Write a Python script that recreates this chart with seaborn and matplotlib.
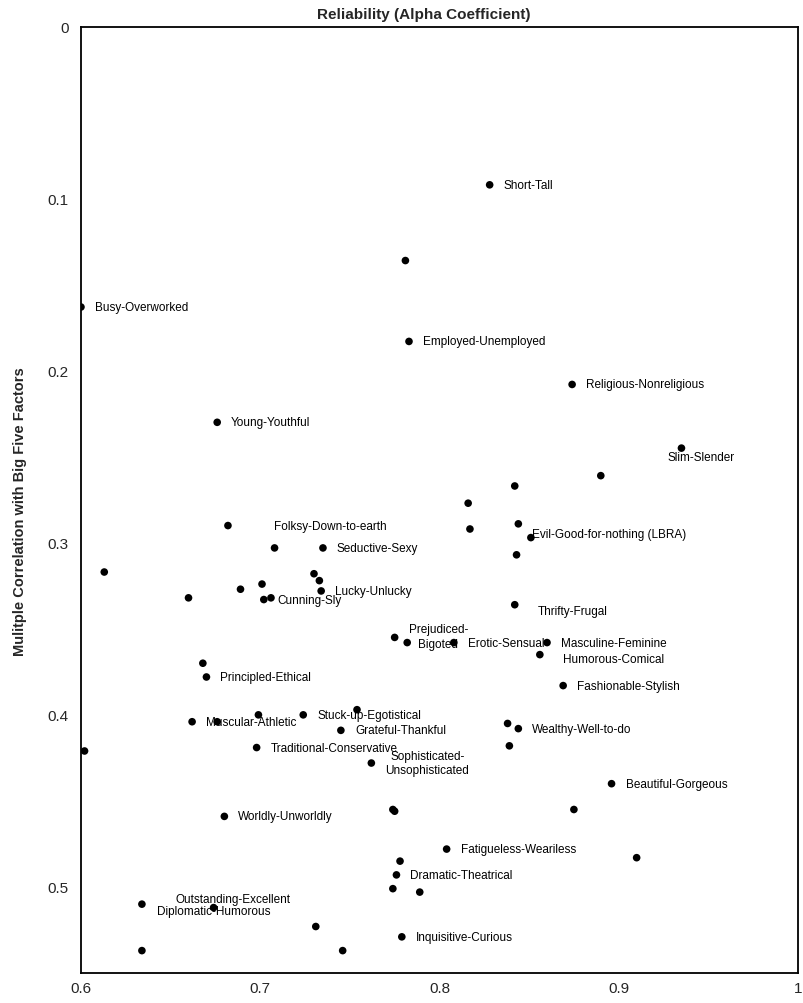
import matplotlib
matplotlib.use("Agg")
import matplotlib.pyplot as plt
import pandas as pd
import seaborn as sns

# ---------------------------------------------------------------------------
# Data
# ---------------------------------------------------------------------------
traits = [
    "Short-Tall", "", "Busy-Overworked", "Employed-Unemployed",
    "Religious-Nonreligious", "Young-Youthful", "Slim-Slender", "", "", "",
    "Folksy-Down-to-earth", "", "", "Evil-Good-for-nothing (LBRA)", "",
    "Seductive-Sexy", "", "", "", "", "", "", "Lucky-Unlucky", "", "",
    "Cunning-Sly", "Thrifty-Frugal", "Prejudiced-\nBigoted", "", "Erotic-Sensual",
    "Masculine-Feminine", "Humorous-Comical", "", "Principled-Ethical",
    "Fashionable-Stylish", "", "", "Stuck-up-Egotistical", "Muscular-Athletic", "",
    "Grateful-Thankful", "", "Wealthy-Well-to-do", "", "Traditional-Conservative",
    "", "Sophisticated-\nUnsophisticated", "Beautiful-Gorgeous", "", "", "",
    "Worldly-Unworldly", "Fatigueless-Weariless", "", "", "Dramatic-Theatrical",
    "", "", "Diplomatic-Humorous", "Outstanding-Excellent", "",
    "Inquisitive-Curious", "", "",
]

alpha = [
    0.828, 0.781, 0.600, 0.783, 0.874, 0.676, 0.935, 0.890, 0.842, 0.816,
    0.682, 0.844, 0.817, 0.851, 0.708, 0.735, 0.843, 0.613, 0.730, 0.733,
    0.701, 0.689, 0.734, 0.660, 0.702, 0.706, 0.842, 0.775, 0.782, 0.808,
    0.860, 0.856, 0.668, 0.670, 0.869, 0.754, 0.699, 0.724, 0.662, 0.676,
    0.745, 0.838, 0.844, 0.839, 0.698, 0.602, 0.762, 0.896, 0.774, 0.775,
    0.875, 0.680, 0.804, 0.910, 0.778, 0.776, 0.774, 0.789, 0.634, 0.674,
    0.731, 0.779, 0.634, 0.746,
]

multiple_r = [
    0.092, 0.136, 0.163, 0.183, 0.208, 0.230, 0.245, 0.261, 0.267, 0.277,
    0.290, 0.289, 0.292, 0.297, 0.303, 0.303, 0.307, 0.317, 0.318, 0.322,
    0.324, 0.327, 0.328, 0.332, 0.333, 0.332, 0.336, 0.355, 0.358, 0.358,
    0.358, 0.365, 0.370, 0.378, 0.383, 0.397, 0.400, 0.400, 0.404, 0.404,
    0.409, 0.405, 0.408, 0.418, 0.419, 0.421, 0.428, 0.440, 0.455, 0.456,
    0.455, 0.459, 0.478, 0.483, 0.485, 0.493, 0.501, 0.503, 0.510, 0.512,
    0.523, 0.529, 0.537, 0.537,
]

x_ticks = [0.6, 0.7, 0.8, 0.9, 1.0]
x_tick_labels = ["0.6", "0.7", "0.8", "0.9", "1"]
y_ticks = [0, 0.1, 0.2, 0.3, 0.4, 0.5]
y_tick_labels = ["0", "0.1", "0.2", "0.3", "0.4", "0.5"]

# label nudges in screen pixels (dx right, dy down); default is right of dot
DEFAULT_OFFSET = (14, 0)
LABEL_OFFSETS = {
    "Slim-Slender": (-14, 9),
    "Folksy-Down-to-earth": (46, 0),
    "Evil-Good-for-nothing (LBRA)": (1, -4),
    "Cunning-Sly": (6, 2),
    "Thrifty-Frugal": (23, 6),
    "Prejudiced-\nBigoted": (14, -1),
    "Humorous-Comical": (23, 4),
    "Diplomatic-Humorous": (15, 7),
    "Outstanding-Excellent": (-38, -9),
}

# ---------------------------------------------------------------------------
# Plot
# ---------------------------------------------------------------------------
sns.set_style("white")
plt.rcParams["font.family"] = ["Liberation Sans", "DejaVu Sans"]

df = pd.DataFrame({"trait": traits, "alpha": alpha, "r": multiple_r})

fig = plt.figure(figsize=(8.04, 10.04), dpi=100)
ax = fig.add_axes([0.1007, 0.0299, 0.8918, 0.9427])

sns.scatterplot(data=df, x="alpha", y="r", ax=ax, color="black",
                s=30, edgecolor="none", legend=False, zorder=3)

for _, row in df.iterrows():
    if not row["trait"]:
        continue
    dx, dy = LABEL_OFFSETS.get(row["trait"], DEFAULT_OFFSET)
    ax.annotate(row["trait"], (row["alpha"], row["r"]),
                xytext=(dx, -dy), textcoords="offset pixels",
                ha="left", va="center", multialignment="center",
                fontsize=8.5, linespacing=1.25, color="black", zorder=4)

ax.set_xlim(0.6, 1.0)
ax.set_ylim(0.55, 0)
ax.set_xticks(x_ticks)
ax.set_xticklabels(x_tick_labels, fontsize=11)
ax.set_yticks(y_ticks)
ax.set_yticklabels(y_tick_labels, fontsize=11)
ax.tick_params(axis="x", length=0, pad=6)
ax.tick_params(axis="y", length=0, pad=9)
ax.set_xlabel("")
ax.set_ylabel("")
for sp in ax.spines.values():
    sp.set_visible(True)
    sp.set_color("black")
    sp.set_linewidth(1.3)

fig.text(424 / 804, 1 - 15 / 1004, "Reliability (Alpha Coefficient)",
         ha="center", va="center", fontsize=11, fontweight="bold")
fig.text(20 / 804, 1 - 512 / 1004, "Mulitple Correlation with Big Five Factors",
         ha="center", va="center", rotation=90, fontsize=10.5, fontweight="bold")

fig.savefig("out.png", dpi=100, facecolor="white")
plt.close(fig)
